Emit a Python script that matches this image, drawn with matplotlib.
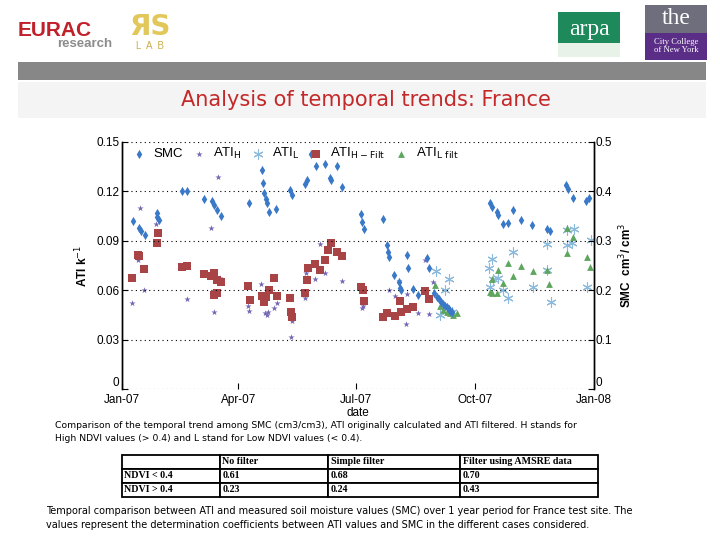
import numpy as np
import matplotlib
matplotlib.use('Agg')
import matplotlib.pyplot as plt
import matplotlib.dates as mdates
from matplotlib.patches import Rectangle

# day of year 2007 (0 = 1 Jan 2007) and values
smc_day = [8.3, 13.1, 14.5, 17.8, 26.8, 27.1, 28.6, 46.2, 50, 63.4, 69.4, 71.2, 73.5, 76.3,
           98.2, 108, 108.8, 110, 111.1, 111.9, 113.9, 118.9, 129.9, 131.2, 141.5, 142.8,
           146, 150, 157, 161, 162, 166, 170, 184.8, 185.8, 187.2, 201.6, 204.7, 206, 206.7,
           210.6, 214.5, 215, 215.5, 220.2, 221.4, 225.3, 229.2, 236.1, 237.4, 241.3,
           243.5, 245, 246.5, 248, 249.5, 251, 252.5, 254, 255.5,
           284.6, 285.9, 289.8, 291, 294.9, 298.8, 302.6, 308.6, 317.3, 328.9, 331,
           343.4, 344.7, 349, 358.9, 361.4]
smc_val = [0.34, 0.325, 0.32, 0.312, 0.356, 0.348, 0.342, 0.40, 0.40, 0.385, 0.38, 0.372, 0.362, 0.35,
           0.376, 0.443, 0.418, 0.397, 0.384, 0.376, 0.359, 0.364, 0.403, 0.393, 0.415, 0.423,
           0.475, 0.451, 0.455, 0.428, 0.424, 0.451, 0.408, 0.354, 0.339, 0.323, 0.344, 0.291, 0.278, 0.268,
           0.231, 0.217, 0.204, 0.20, 0.271, 0.244, 0.202, 0.19, 0.265, 0.244, 0.195,
           0.187, 0.182, 0.177, 0.172, 0.168, 0.165, 0.161, 0.158, 0.155,
           0.376, 0.368, 0.359, 0.352, 0.335, 0.337, 0.362, 0.342, 0.331, 0.323, 0.32,
           0.413, 0.404, 0.387, 0.38, 0.387]

ati_h_day = [7.5, 12.1, 13.9, 17.2, 26.3, 45.6, 50, 68.6, 70.6, 71.2, 74, 75.8, 97.2, 98.5,
             107.5, 108, 110.6, 111.9, 113.1, 117.6, 119.6, 129.9, 131.2, 130.5, 141.5, 142.3,
             149.3, 153.1, 157, 169.9, 185.4, 186.6, 206.7, 211.1, 214.5, 219.6, 220.6, 229.2,
             234.3, 237.4, 240.8]
ati_h_val = [0.0524, 0.0783, 0.110, 0.060, 0.100, 0.0733, 0.0547, 0.098, 0.057, 0.047, 0.1286, 0.0676,
             0.0504, 0.0476, 0.0636, 0.056, 0.0464, 0.045, 0.047, 0.049, 0.052, 0.043, 0.041, 0.0318,
             0.055, 0.0703, 0.0666, 0.0879, 0.0703, 0.0656, 0.049, 0.0504, 0.060, 0.0565, 0.0656,
             0.0395, 0.0577, 0.046, 0.0783, 0.0454, 0.065]

ati_l_day = [242.8, 245.9, 249.8, 253.1, 255, 283.8, 284.6, 285.9, 287.1, 291, 294.9, 298.3,
             302.6, 317.6, 328.9, 328.4, 331.8, 343.9, 347.8, 349.8, 344.2, 359.4, 362.4]
ati_l_val = [0.0718, 0.045, 0.060, 0.0668, 0.047, 0.0733, 0.0618, 0.079, 0.0666, 0.0672, 0.060, 0.055,
             0.0834, 0.062, 0.0723, 0.088, 0.053, 0.0874, 0.0885, 0.097, 0.0966, 0.0618, 0.0905]

ati_hf_day = [7.5, 12.6, 13.4, 17.2, 26.8, 27.6, 46.2, 50, 63.4, 68.6, 71.2, 71.4, 73.2, 73.5, 76.3,
              97.7, 99, 108, 110, 111.1, 113.7, 117.6, 119.6, 129.9, 130.7, 131.2, 141.5, 142.8,
              143.6, 149.3, 153.1, 157, 159.1, 161.6, 166, 169.9, 184.8, 186.6, 187.2, 201.6,
              205.2, 211.1, 215, 215.5, 220.6, 225.3, 234.3, 237.4]
ati_hf_val = [0.0676, 0.0814, 0.0808, 0.0727, 0.0885, 0.095, 0.0739, 0.0747, 0.0698, 0.0686, 0.0706,
              0.057, 0.058, 0.0662, 0.0652, 0.0627, 0.054, 0.0565, 0.053, 0.0557, 0.060, 0.0676, 0.0565,
              0.0555, 0.047, 0.0435, 0.0585, 0.0662, 0.0733, 0.0759, 0.0723, 0.0783, 0.0844, 0.0889,
              0.0834, 0.0808, 0.0621, 0.060, 0.0534, 0.0439, 0.046, 0.0443, 0.0536, 0.047, 0.0486,
              0.0496, 0.0595, 0.0544]

ati_lf_day = [242, 245.9, 248.3, 251.1, 253.7, 256, 258.8, 284.6, 285.9, 286.5, 289.8, 291, 294.9,
              298.8, 302.6, 308.6, 317.6, 328.9, 330.2, 344, 344.5, 349, 359.4, 362]
ati_lf_val = [0.0632, 0.0507, 0.048, 0.047, 0.0462, 0.045, 0.046, 0.059, 0.058, 0.0668, 0.0585, 0.0723,
              0.0642, 0.0763, 0.0686, 0.0747, 0.0719, 0.0723, 0.0638, 0.0976, 0.0824, 0.0925, 0.080, 0.0743]

table_cols = ['', 'No filter', 'Simple filter', 'Filter using AMSRE data']
table_rows = [['NDVI < 0.4', '0.61', '0.68', '0.70'],
              ['NDVI > 0.4', '0.23', '0.24', '0.43']]

W, H = 720, 540


def fx(x):
    return x / W


def fy(y):
    return 1 - y / H


def to_num(days):
    return mdates.date2num(np.datetime64('2007-01-01')) + np.array(days)


plt.rcParams['font.family'] = ['Liberation Sans', 'DejaVu Sans']
fig = plt.figure(figsize=(7.2, 5.4), dpi=100)

# ---- header (logos drawn as text / boxes) ----
fig.text(fx(18), fy(30), 'EURAC', color='#c0202a', fontsize=15, fontweight='bold', va='center')
fig.text(fx(57), fy(44), 'research', color='#8c8c8c', fontsize=9.5, fontweight='bold', va='center')
fig.text(fx(150), fy(27), 'ЯS', color='#e2c85a', fontsize=20, fontweight='bold', va='center', ha='center',
         family='DejaVu Sans')
fig.text(fx(150), fy(46), 'L  A  B', color='#c8b04a', fontsize=7, va='center', ha='center')
fig.patches.append(Rectangle((fx(558), fy(57)), fx(62), 45 / H, transform=fig.transFigure,
                             facecolor='#1e8a5c', edgecolor='none'))
fig.patches.append(Rectangle((fx(558), fy(57)), fx(62), 14 / H, transform=fig.transFigure,
                             facecolor='#e8f2e8', edgecolor='none'))
fig.text(fx(589), fy(30), 'arpa', color='white', fontsize=17, family='Liberation Serif',
         va='center', ha='center')
fig.patches.append(Rectangle((fx(645), fy(60)), fx(62), 55 / H, transform=fig.transFigure,
                             facecolor='#6e6e7c', edgecolor='none'))
fig.patches.append(Rectangle((fx(645), fy(60)), fx(62), 27 / H, transform=fig.transFigure,
                             facecolor='#5a2d86', edgecolor='none'))
fig.text(fx(676), fy(19), 'the', color='white', fontsize=17, family='Liberation Serif',
         va='center', ha='center')
fig.text(fx(676), fy(46), 'City College\nof New York', color='white', fontsize=6.2,
         family='Liberation Serif', va='center', ha='center', linespacing=1.0)

# grey bars and title
fig.patches.append(Rectangle((fx(18), fy(80)), fx(688), 18 / H, transform=fig.transFigure,
                             facecolor='#878787', edgecolor='none'))
fig.patches.append(Rectangle((fx(18), fy(118)), fx(688), 36 / H, transform=fig.transFigure,
                             facecolor='#f4f4f4', edgecolor='none'))
fig.text(fx(366), fy(100), 'Analysis of temporal trends: France', color='#c42828', fontsize=15,
         family='DejaVu Sans', ha='center', va='center')

# ---- chart ----
ax = fig.add_axes([fx(122), fy(389), fx(594 - 122), (389 - 142) / H])
ax2 = ax.twinx()

h1 = ax.scatter(to_num(ati_h_day), ati_h_val, marker='*', s=22, color='#7466b4', linewidths=0,
                label=r'ATI$_\mathrm{H}$')
h2 = ax.scatter(to_num(ati_l_day), ati_l_val, marker=(6, 2, 0), s=45, color='#8cbadc', linewidths=0.8,
                label=r'ATI$_\mathrm{L}$')
h3 = ax.scatter(to_num(ati_hf_day), ati_hf_val, marker='s', s=26, color='#a84446', linewidths=0,
                label=r'ATI$_\mathrm{H-Filt}$')
h4 = ax.scatter(to_num(ati_lf_day), ati_lf_val, marker='^', s=24, color='#5ea55e', linewidths=0,
                label=r'ATI$_\mathrm{L\ filt}$')
h0 = ax2.scatter(to_num(smc_day), smc_val, marker='d', s=22, color='#3a78c8', linewidths=0,
                 label='SMC')

ax.set_xlim(to_num([0])[0], to_num([365])[0])
ax.set_ylim(0, 0.15)
ax2.set_ylim(0, 0.5)
ax.set_yticks([0, 0.03, 0.06, 0.09, 0.12, 0.15])
ax.set_yticklabels(['0', '0.03', '0.06', '0.09', '0.12', '0.15'])
ax2.set_yticks([0, 0.1, 0.2, 0.3, 0.4, 0.5])
ax2.set_yticklabels(['0', '0.1', '0.2', '0.3', '0.4', '0.5'])
ax.xaxis.set_major_locator(mdates.MonthLocator(bymonth=[1, 4, 7, 10]))
ax.xaxis.set_major_formatter(mdates.DateFormatter('%b-%y'))
ax.grid(axis='y', linestyle=(0, (1, 3)), color='black', linewidth=0.8)

for a in (ax, ax2):
    a.spines['top'].set_visible(False)
    a.spines['bottom'].set_visible(False)
    a.spines['left'].set_linewidth(1.0)
    a.spines['right'].set_linewidth(1.0)
    a.tick_params(direction='in', labelsize=8.5, length=4, width=0.8)
ax.tick_params(axis='y', pad=2)
ax2.tick_params(axis='y', pad=1)
# the zero labels sit just above the origin, as in the original
ax.get_yticklabels()[0].set_verticalalignment('bottom')
ax2.get_yticklabels()[0].set_verticalalignment('bottom')

ax.set_ylabel(r'ATI k$^{-1}$', fontsize=8.5, fontweight='bold', labelpad=4)
ax2.set_ylabel(r'SMC  cm$^3$/ cm$^3$', fontsize=8.5, fontweight='bold', labelpad=4)
ax.set_xlabel('date', fontsize=8.5, labelpad=1)

ax2.legend(handles=[h0, h1, h2, h3, h4], loc='upper left', ncol=5, frameon=False, fontsize=9.5,
           handletextpad=0.5, columnspacing=0.6, borderaxespad=0.1, handlelength=1.2,
           bbox_to_anchor=(0.005, 1.01))

# ---- captions and table ----
fig.text(fx(55), fy(432), 'Comparison of the temporal trend among SMC (cm3/cm3), ATI originally calculated '
         'and ATI filtered. H stands for\nHigh NDVI values (> 0.4) and L stand for Low NDVI values (< 0.4).',
         fontsize=6.7, family='DejaVu Sans', va='center', linespacing=1.45)

tab_ax = fig.add_axes([fx(122), fy(497), fx(598 - 122), (497 - 455) / H])
tab_ax.axis('off')
tbl = tab_ax.table(cellText=table_rows, colLabels=table_cols, bbox=[0, 0, 1, 1], cellLoc='left',
                   colLoc='left', colWidths=[98, 108, 132, 138])
tbl.auto_set_font_size(False)
for (r, c), cell in tbl.get_celld().items():
    cell.set_linewidth(1.3)
    cell.get_text().set_fontsize(7.2)
    cell.get_text().set_fontfamily('Liberation Serif')
    cell.get_text().set_fontweight('bold')
    cell.PAD = 0.02

fig.text(fx(46), fy(518), 'Temporal comparison between ATI and measured soil moisture values (SMC) over 1 year '
         'period for France test site. The\nvalues represent the determination coefficients between ATI '
         'values and SMC in the different cases considered.',
         fontsize=7.0, family='DejaVu Sans', va='center', linespacing=1.45)

fig.savefig('out.png', dpi=100)
